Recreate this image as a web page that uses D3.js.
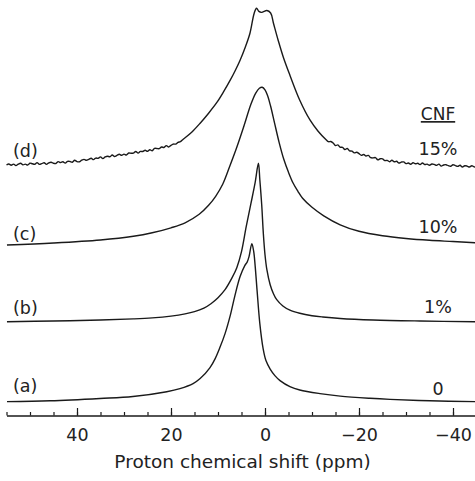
<!DOCTYPE html>
<html>
<head>
<meta charset="utf-8">
<script src="https://cdn.jsdelivr.net/npm/d3@7"></script>
<style>
  html, body { margin: 0; padding: 0; background: #fff; }
  svg { display: block; }
  text { font-family: "DejaVu Sans", sans-serif; fill: #222; }
</style>
</head>
<body>
<svg id="chart" width="475" height="481"></svg>
<script>
// ---------- data (ppm, intensity in arbitrary units above each trace's baseline) ----------
const sampleLabels = ["(a)", "(b)", "(c)", "(d)"];
const cnfLabels = ["0", "1%", "10%", "15%"];
const legendTitle = "CNF";
const xTitle = "Proton chemical shift (ppm)";
const majorTicks = [40, 20, 0, -20, -40];
const minorTicks = [55, 50, 45, 40, 35, 30, 25, 20, 15, 10, 5, 0, -5, -10, -15, -20, -25, -30, -35, -40, -45];

// vertical stacking offsets of the four traces
const traceOffsets = [12.4, 92.3, 169.7, 248.8];

const ppmA = [54.9, 45.7, 35.1, 28.1, 20.9, 18.1, 15.3, 13.8, 11.7, 10.6, 9.6, 8.5, 7.4, 6.4, 5.3, 4.3, 3.8, 3.4, 2.8, 2.4, 2.1, 1.7, 1.1, 0.4, -0.2, -1.1, -2.1, -3.2, -5.3, -7.4, -11.7, -16.0, -22.3, -26.6, -35.1, -44.7];
const intA = [0, 0.8, 3.1, 5.1, 9.9, 13.0, 18.0, 23.0, 34.0, 43.0, 54.0, 68.0, 86.0, 106.0, 125.0, 136.0, 139.5, 145.0, 158.0, 150.0, 136.0, 112.0, 78.0, 53.0, 41.0, 32.5, 26.0, 21.0, 15.0, 11.6, 8.0, 5.5, 3.3, 2.2, 0.8, 0];

const ppmB = [54.9, 45, 35, 28, 24, 20, 17, 15, 13, 11.5, 10, 8.5, 7, 6, 5, 4, 3, 2.1, 1.4, 1.1, 0.7, 0.35, 0, -0.4, -1.1, -1.8, -2.5, -3.8, -5.3, -7.4, -10, -12.3, -16, -23, -33, -44.7];
const intB = [0, 0.7, 1.7, 2.8, 3.8, 5.6, 7.8, 10, 13.6, 18, 24, 32, 44, 54, 70, 95, 118, 139, 158.4, 142, 117, 88, 67, 52, 37, 28, 22, 15.7, 11.5, 8.4, 6, 4.7, 3.2, 1.7, 0.7, 0];

const ppmC = [54.9, 45, 35, 28, 24, 20, 17, 14, 12, 10.5, 9, 7.5, 6, 4.5, 3, 2, 1.2, 0.6, 0, -0.6, -1.2, -2, -3, -4, -5, -6, -7, -8, -10, -12.5, -16, -20, -25, -30, -35, -40, -44.7];
const intC = [-0.7, 1.3, 4.3, 8, 11.5, 16.5, 21.5, 30, 39, 48, 60, 78, 97, 118, 140, 151, 156, 157, 154.5, 148, 138, 122, 102, 85, 72, 61, 53, 46, 37, 28.5, 19.5, 13, 8.5, 5.8, 4, 2.8, 1.6];

const ppmD = [55, 54.5, 54, 53.5, 53, 52.5, 52, 51.5, 51, 50.5, 50, 49.5, 49, 48.5, 48, 47.5, 47, 46.5, 46, 45.5, 45, 44.5, 44, 43.5, 43, 42.5, 42, 41.5, 41, 40.5, 40,
  39.5, 39, 38.5, 38, 37.5, 37, 36.5, 36, 35.5, 35, 34.5, 34, 33.5, 33, 32.5, 32, 31.5, 31, 30.5, 30, 29.5, 29, 28.5, 28, 27.5, 27, 26.5, 26, 25.5, 25,
  24.5, 24, 23.5, 23, 22.5, 22, 21.5, 21, 20.5, 20, 19.5, 19, 18.5, 18,
  17.4, 15.6, 13.8, 12, 10.2, 8.8, 7.4, 6.3, 5.3, 4.2, 3.2, 2.3, 1.8, 1.3, 0.8, 0.4, -0.4, -1.2, -1.8, -2.8, -3.9, -5.3, -7.4, -9.6, -11.3,
  -13, -13.5, -14, -14.5, -15, -15.5, -16, -16.5, -17, -17.5, -18, -18.5, -19, -19.5, -20, -20.5, -21, -21.5, -22, -22.5, -23, -23.5, -24, -24.5, -25, -25.5,
  -26, -26.5, -27, -27.5, -28, -28.5, -29, -29.5, -30, -30.5, -31, -31.5, -32, -32.5, -33, -33.5, -34, -34.5, -35, -35.5, -36, -36.5, -37, -37.5, -38, -38.5,
  -39, -39.5, -40, -40.5, -41, -41.5, -42, -42.5, -43, -43.5, -44, -44.5, -45];
const intD = [0.2, 1.2, 0.0, 1.1, -0.4, 1.0, 2.0, 0.3, 1.1, 0.2, 2.0, 1.5, 0.9, 2.6, 0.8, 1.5, 2.5, 0.8, 2.4, 3.0, 1.9, 1.7, 3.6, 2.6, 3.4, 2.1, 3.9, 3.7, 3.0, 5.0, 3.6,
  3.4, 5.0, 5.8, 4.9, 5.8, 7.0, 5.6, 7.1, 6.9, 8.3, 6.6, 8.3, 9.0, 8.4, 10.2, 8.7, 9.8, 10.9, 9.9, 11.1, 10.2, 12.2, 12.0, 12.0, 13.7, 12.1, 13.8, 13.7, 14.9, 13.9,
  15.5, 14.5, 16.9, 16.7, 16.5, 18.2, 17.7, 19.6, 18.2, 19.8, 21.1, 21.1, 22.8, 23.6,
  26.0, 33.0, 42.0, 52.0, 63.0, 73.5, 85.0, 95.0, 105.0, 118.0, 132.0, 152.0, 156.9, 153.8, 152.8, 153.4, 154.7, 152.2, 142.0, 125.0, 108.0, 90.0, 65.0, 45.0, 34.0,
  25.5, 23.5, 23.7, 22.2, 19.6, 20.3, 18.0, 17.8, 15.6, 16.7, 14.4, 14.1, 12.3, 13.0, 11.6, 9.8, 10.7, 9.2, 9.8, 7.5, 7.3, 7.6, 5.4, 6.4, 6.4, 4.6,
  4.8, 3.5, 5.0, 3.4, 3.9, 2.2, 3.1, 3.3, 1.6, 2.2, 0.9, 2.5, 1.4, 1.9, 0.6, 2.2, 0.7, 1.1, -0.1, 1.2, 0.8, -0.2, 1.1, -0.9, 0.2, 0.5,
  -0.5, -1.1, 0.5, -0.4, -1.2, -0.1, -1.8, -0.6, -0.9, -1.8, -0.5, -1.7, -1.5];

const tracePpm = [ppmA, ppmB, ppmC, ppmD];
const traceInt = [intA, intB, intC, intD];

// ---------- layout ----------
const axisY = 415.5;
const svg = d3.select("#chart");

const x = d3.scaleLinear().domain([55, -45]).range([6.5, 476.5]);
const y = d3.scaleLinear().domain([0, 414]).range([414, 0]);

const line = d3.line()
  .x(d => x(d[0]))
  .y(d => y(d[1]))
  .curve(d3.curveCatmullRom.alpha(0.5));

tracePpm.forEach((pp, i) => {
  const pts = pp.map((p, j) => [p, traceInt[i][j] + traceOffsets[i]]);
  svg.append("path")
    .datum(pts)
    .attr("d", line)
    .attr("fill", "none")
    .attr("stroke", "#1a1a1a")
    .attr("stroke-width", 1.4)
    .attr("stroke-linejoin", "round");
});

// axis: minor ticks
const minorAxis = d3.axisBottom(x).tickValues(minorTicks).tickSizeInner(-3.5).tickSizeOuter(0).tickFormat("");
const gMinor = svg.append("g").attr("transform", `translate(0,${axisY})`).call(minorAxis);
gMinor.select(".domain").remove();

const majorAxis = d3.axisBottom(x).tickValues(majorTicks).tickSizeInner(-7.5).tickSizeOuter(0).tickPadding(13.5)
  .tickFormat(d3.format("d"));
const gMajor = svg.append("g").attr("transform", `translate(0,${axisY})`).call(majorAxis);

svg.selectAll(".tick line").attr("stroke", "#1a1a1a").attr("stroke-width", 1.2);
gMajor.select(".domain").attr("stroke", "#1a1a1a").attr("stroke-width", 1.4);
gMajor.selectAll(".tick text")
  .attr("font-family", "DejaVu Sans, sans-serif")
  .attr("font-size", 17.5)
  .attr("fill", "#222");

svg.append("text")
  .attr("x", 242.5).attr("y", 468)
  .attr("text-anchor", "middle")
  .attr("font-size", 18.5)
  .text(xTitle);

// trace labels on the left
const leftBase = [392, 314, 240, 157];
sampleLabels.forEach((t, i) => {
  svg.append("text").attr("x", 13).attr("y", leftBase[i]).attr("font-size", 17.5).text(t);
});

// CNF labels on the right
const rightBase = [395, 313, 233, 155];
cnfLabels.forEach((t, i) => {
  svg.append("text").attr("x", 438).attr("y", rightBase[i]).attr("text-anchor", "middle").attr("font-size", 17.5).text(t);
});
svg.append("text").attr("x", 438).attr("y", 120).attr("text-anchor", "middle").attr("font-size", 17)
  .attr("text-decoration", "underline").text(legendTitle);
</script>
</body>
</html>
